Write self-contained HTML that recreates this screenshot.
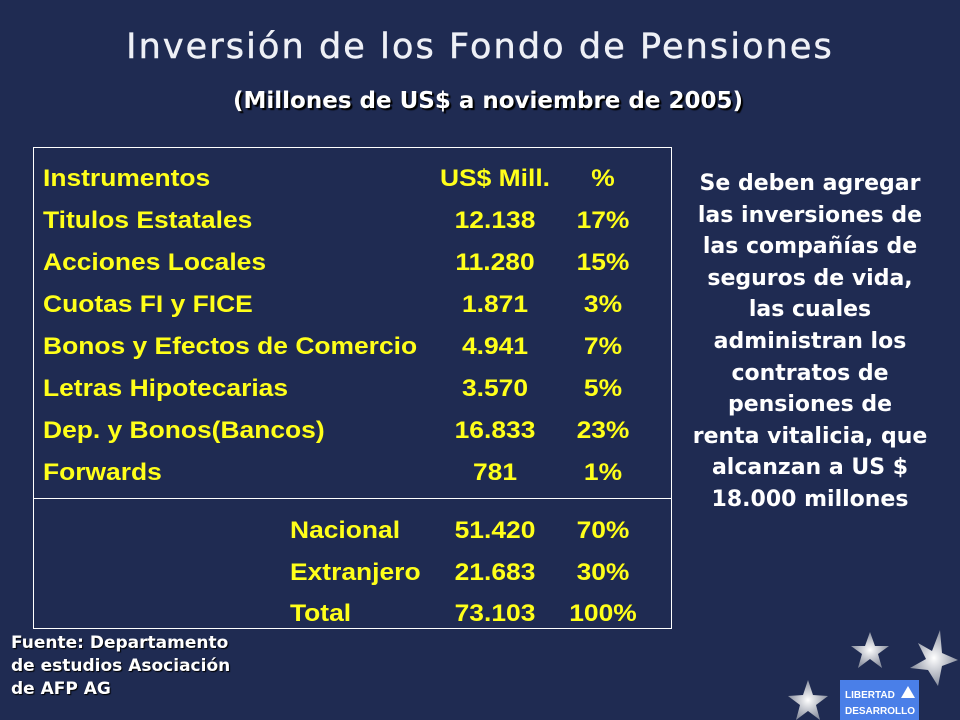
<!DOCTYPE html>
<html><head><meta charset="utf-8"><style>
body{margin:0;width:960px;height:720px;background:#1f2b52;overflow:hidden;position:relative;font-family:"Liberation Sans",sans-serif}
.a{position:absolute;white-space:nowrap}
.t{font-family:"DejaVu Sans",sans-serif;color:#eef0f6;font-size:35px;letter-spacing:2.1px;left:0;width:960px;text-align:center;top:27px;-webkit-text-stroke:0.5px #eef0f6}
.s{font-family:"DejaVu Sans",sans-serif;font-weight:bold;color:#fff;font-size:23px;left:0;width:976px;text-align:center;top:88px;text-shadow:2px 2px 1px #000}
.r{font-weight:bold;color:#ffff1a;font-size:24px;line-height:28px;transform:scaleX(1.1);transform-origin:left center}
.c{width:120px;text-align:center;transform-origin:center center}
.side{font-family:"DejaVu Sans",sans-serif;font-weight:bold;color:#fff;font-size:22px;line-height:31.6px;text-align:center;left:680px;width:260px;top:168px}
.f{font-family:"DejaVu Sans",sans-serif;font-weight:bold;color:#fff;font-size:17px;line-height:23px;left:11px;top:632px;text-shadow:1px 1px 1px #000}
</style></head><body>
<div class="a t">Inversión de los Fondo de Pensiones</div>
<div class="a s">(Millones de US$ a noviembre de 2005)</div>
<div class="a" style="left:33px;top:147px;width:637px;height:480px;border:1px solid #fff"></div>
<div class="a" style="left:33px;top:498px;width:638px;height:1px;background:#fff"></div>
<div id="rows"></div>
<div class="a side">Se deben agregar<br>las inversiones de<br>las compañías de<br>seguros de vida,<br>las cuales<br>administran los<br>contratos de<br>pensiones de<br>renta vitalicia, que<br>alcanzan a US $<br>18.000 millones</div>
<div class="a f">Fuente: Departamento<br>de estudios Asociación<br>de AFP AG</div>
<svg class="a" style="left:760px;top:620px" width="200" height="100">
<defs><radialGradient id="g"><stop offset="0" stop-color="#fff"/><stop offset="1" stop-color="#8a90a0"/></radialGradient></defs>
<polygon points="110,12 115,26 129,26 118,34 122,48 110,39 98,48 102,34 91,26 105,26" fill="url(#g)"/>
<polygon points="180,10 182,33 198,40 182,46 178,66 168,50 150,48 166,39 158,23 172,31" fill="url(#g)"/>
<polygon points="48,60 53,75 68,76 56,85 60,100 48,91 36,100 40,85 28,76 43,75" fill="url(#g)"/>
<rect x="80" y="60" width="79" height="40" fill="#4a7fe8"/>
<text x="85" y="78" font-family="Liberation Sans" font-weight="bold" font-size="10" fill="#fff">LIBERTAD</text>
<text x="85" y="94" font-family="Liberation Sans" font-weight="bold" font-size="10" fill="#fff">DESARROLLO</text>
<polygon points="148,66 155,78 141,78" fill="#fff"/>
</svg>
<script>
const labels=["Instrumentos","Titulos Estatales","Acciones Locales","Cuotas FI y FICE","Bonos y Efectos de Comercio","Letras Hipotecarias","Dep. y Bonos(Bancos)","Forwards","Nacional","Extranjero","Total"];
const amounts=["US$ Mill.","12.138","11.280","1.871","4.941","3.570","16.833","781","51.420","21.683","73.103"];
const pcts=["%","17%","15%","3%","7%","5%","23%","1%","70%","30%","100%"];
const tops=[165,207,249,291,333,375,417,459,517,559,600];
const root=document.getElementById('rows');
labels.forEach((l,i)=>{
 const d=document.createElement('div');d.className='a r';d.style.top=tops[i]+'px';d.style.left=(i>=8?290:43)+'px';d.textContent=l;
 
 
 root.appendChild(d);
 const a=document.createElement('div');a.className='a r c';a.style.top=tops[i]+'px';a.style.left='435px';a.textContent=amounts[i];
 
 
 root.appendChild(a);
 const p=document.createElement('div');p.className='a r c';p.style.top=tops[i]+'px';p.style.left='543px';p.textContent=pcts[i];
 
 
 root.appendChild(p);
});
</script>
</body></html>
